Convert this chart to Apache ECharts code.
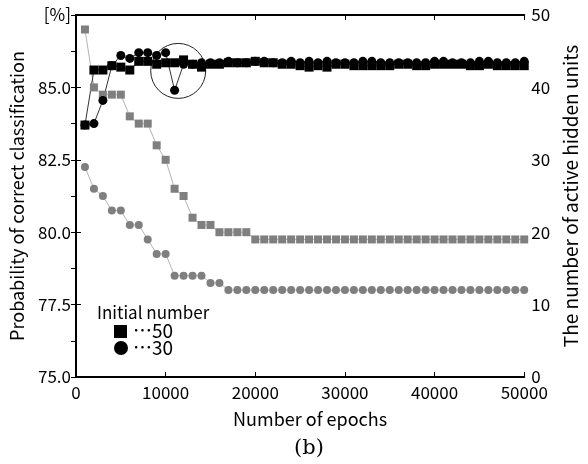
<!DOCTYPE html>
<html><head><meta charset="utf-8">
<script src="https://cdn.jsdelivr.net/npm/echarts@6/dist/echarts.min.js"></script>
<style>html,body{margin:0;padding:0;background:#fff}#c{width:588px;height:464px}</style>
</head><body><div id="c"></div>
<script>
const epochs = [1000,2000,3000,4000,5000,6000,7000,8000,9000,10000,
  11000,12000,13000,14000,15000,16000,17000,18000,19000,20000,
  21000,22000,23000,24000,25000,26000,27000,28000,29000,30000,
  31000,32000,33000,34000,35000,36000,37000,38000,39000,40000,
  41000,42000,43000,44000,45000,46000,47000,48000,49000,50000];
// accuracy [%], initial number 50 (black squares)
const acc50 = [83.7,85.6,85.6,85.75,85.7,85.6,85.9,85.9,85.8,85.85,
  85.85,85.95,85.8,85.7,85.8,85.8,85.85,85.85,85.85,85.9,
  85.85,85.85,85.8,85.8,85.75,85.7,85.75,85.7,85.8,85.8,
  85.75,85.75,85.75,85.75,85.75,85.8,85.8,85.75,85.75,85.8,
  85.8,85.8,85.8,85.75,85.75,85.8,85.75,85.75,85.75,85.75];
// accuracy [%], initial number 30 (black circles)
const acc30 = [83.7,83.75,84.55,85.75,86.1,86.0,86.2,86.2,86.1,86.2,
  84.9,85.8,85.8,85.85,85.85,85.85,85.9,85.85,85.85,85.9,
  85.9,85.85,85.85,85.9,85.85,85.9,85.85,85.9,85.85,85.85,
  85.85,85.9,85.9,85.85,85.85,85.85,85.85,85.85,85.85,85.9,
  85.9,85.85,85.85,85.85,85.9,85.9,85.85,85.85,85.85,85.9];
// active hidden units, initial number 50 (gray squares)
const hidden50 = [48,40,39,39,39,36,35,35,32,30,
  26,25,22,21,21,20,20,20,20,19,
  19,19,19,19,19,19,19,19,19,19,
  19,19,19,19,19,19,19,19,19,19,
  19,19,19,19,19,19,19,19,19,19];
// active hidden units, initial number 30 (gray circles)
const hidden30 = [29,26,25,23,23,21,21,19,17,17,
  14,14,14,14,13,13,12,12,12,12,
  12,12,12,12,12,12,12,12,12,12,
  12,12,12,12,12,12,12,12,12,12,
  12,12,12,12,12,12,12,12,12,12];
const xTickLabels = ['0','10000','20000','30000','40000','50000'];
const leftTickLabels = ['75.0','77.5','80.0','82.5','85.0','[%]'];
const rightTickLabels = ['0','10','20','30','40','50'];
const annotation = [11400, 85.57]; // centre of the highlighted dip

const FONT = '"Noto Sans CJK JP", "Noto Sans", sans-serif';
const pairs = (ys) => epochs.map((e, i) => [e, ys[i]]);
const chart = echarts.init(document.getElementById('c'));
const axisLine = {show: true, lineStyle: {color: '#000', width: 2}};
const tick = {show: true, inside: true, length: 5, lineStyle: {color: '#000', width: 1}};
chart.setOption({
  animation: false,
  backgroundColor: '#fff',
  grid: {left: 76, right: 60, top: 15, bottom: 87},
  xAxis: [
    {type: 'value', min: 0, max: 50000, interval: 10000, position: 'bottom',
     axisLine, axisTick: tick, splitLine: {show: false},
     axisLabel: {color: '#000', fontSize: 17, margin: 7, fontFamily: FONT,
       formatter: (v) => xTickLabels[Math.round(v / 10000)]},
     name: 'Number of epochs', nameLocation: 'middle', nameGap: 33,
     nameTextStyle: {color: '#000', fontSize: 18, fontFamily: FONT, padding: [0, 0, 0, 20]}},
    {type: 'value', min: 0, max: 50000, interval: 10000, position: 'top',
     axisLine, axisTick: tick, axisLabel: {show: false}, splitLine: {show: false}}
  ],
  yAxis: [
    {type: 'value', min: 75, max: 87.5, interval: 2.5, position: 'left',
     axisLine, axisTick: tick, splitLine: {show: false},
     axisLabel: {color: '#000', fontSize: 17, margin: 5, fontFamily: FONT,
       formatter: (v) => leftTickLabels[Math.round((v - 75) / 2.5)]},
     name: 'Probability of correct classification', nameLocation: 'middle', nameGap: 50,
     nameTextStyle: {color: '#000', fontSize: 18, fontFamily: FONT}},
    {type: 'value', min: 0, max: 50, interval: 10, position: 'right',
     axisLine, axisTick: tick, minorTick: {show: true, splitNumber: 2, length: 5, lineStyle: {color: '#000', width: 1}},
     splitLine: {show: false}, minorSplitLine: {show: false},
     axisLabel: {color: '#000', fontSize: 17, margin: 7, fontFamily: FONT,
       formatter: (v) => rightTickLabels[Math.round(v / 10)]},
     name: 'The number of active hidden units', nameLocation: 'middle', nameGap: 36,
     nameRotate: 90,
     nameTextStyle: {color: '#000', fontSize: 19, fontFamily: FONT}}
  ],
  series: [
    {name: 'hidden50', type: 'line', yAxisIndex: 1, data: pairs(hidden50),
     symbol: 'rect', symbolSize: 8, itemStyle: {color: '#7f7f7f'},
     lineStyle: {color: '#b4b4b4', width: 1}},
    {name: 'hidden30', type: 'line', yAxisIndex: 1, data: pairs(hidden30),
     symbol: 'circle', symbolSize: 8, itemStyle: {color: '#7f7f7f'},
     lineStyle: {color: '#b4b4b4', width: 1}},
    {name: 'acc50', type: 'line', yAxisIndex: 0, data: pairs(acc50),
     symbol: 'rect', symbolSize: 9, itemStyle: {color: '#000'},
     lineStyle: {color: '#333', width: 1}},
    {name: 'acc30', type: 'line', yAxisIndex: 0, data: pairs(acc30),
     symbol: 'circle', symbolSize: 9, itemStyle: {color: '#000'},
     lineStyle: {color: '#333', width: 1}}
  ]
});
const ctr = chart.convertToPixel({xAxisIndex: 0, yAxisIndex: 0}, annotation);
chart.setOption({
  graphic: [
    {type: 'circle', shape: {cx: ctr[0], cy: ctr[1], r: 27.5}, style: {fill: 'none', stroke: '#222', lineWidth: 1}, silent: true},
    {type: 'text', x: 97, y: 313, style: {text: 'Initial number', fill: '#000', font: '17px ' + FONT, verticalAlign: 'middle'}},
    {type: 'rect', shape: {x: 114, y: 325, width: 13, height: 13}, style: {fill: '#000'}},
    {type: 'text', x: 133, y: 331, style: {text: '\u22ef50', fill: '#000', font: '19px ' + FONT, verticalAlign: 'middle'}},
    {type: 'circle', shape: {cx: 121, cy: 348, r: 7}, style: {fill: '#000'}},
    {type: 'text', x: 133, y: 348, style: {text: '\u22ef30', fill: '#000', font: '19px ' + FONT, verticalAlign: 'middle'}},
    {type: 'text', x: 309, y: 449, style: {text: '(b)', fill: '#000', font: '21px "DejaVu Serif", serif', align: 'center', verticalAlign: 'middle'}}
  ]
});
</script></body></html>
